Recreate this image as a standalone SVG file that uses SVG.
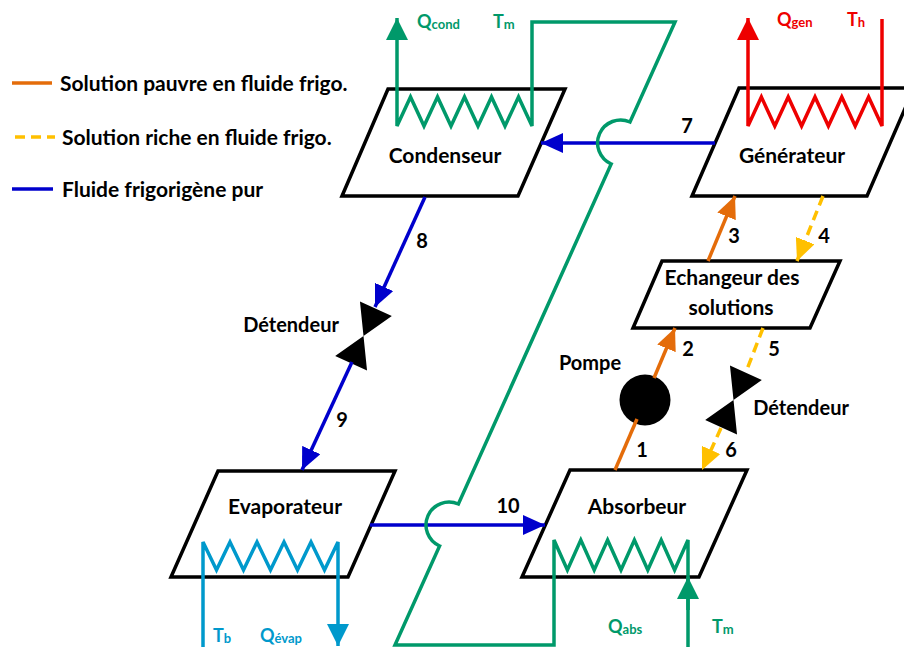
<svg xmlns="http://www.w3.org/2000/svg" width="904" height="647" viewBox="0 0 904 647">
<style>
text{font-family:Lato,"Liberation Sans",sans-serif;font-weight:bold;fill:#000}
.node{font-size:21px;text-anchor:middle}
.num{font-size:20px;text-anchor:middle}
.leg{font-size:21px}
.lbl{font-size:20px;text-anchor:middle}
.q{font-size:18px}
.sub{font-size:13px}
.box{fill:#fff;stroke:#000;stroke-width:3.5;stroke-linejoin:miter}
.blue{fill:none;stroke:#0000cc;stroke-width:3.5}
.orange{fill:none;stroke:#e46c0a;stroke-width:3.5}
.yellow{fill:none;stroke:#ffc000;stroke-width:3.5;stroke-dasharray:10 6}
.green{fill:none;stroke:#00996a;stroke-width:3.5}
.red{fill:none;stroke:#ee0000;stroke-width:3.5}
.lblue{fill:none;stroke:#0099cc;stroke-width:3.5}
</style>
<defs>
<marker id="aBlue" viewBox="0 0 22 20" refX="22" refY="10" markerWidth="22" markerHeight="20" markerUnits="userSpaceOnUse" orient="auto"><path d="M0,0L22,10L0,20z" fill="#0000cc"/></marker>
<marker id="aOrange" viewBox="0 0 22 20" refX="22" refY="10" markerWidth="22" markerHeight="20" markerUnits="userSpaceOnUse" orient="auto"><path d="M0,0L22,10L0,20z" fill="#e46c0a"/></marker>
<marker id="aYellow" viewBox="0 0 22 20" refX="22" refY="10" markerWidth="22" markerHeight="20" markerUnits="userSpaceOnUse" orient="auto"><path d="M0,0L22,10L0,20z" fill="#ffc000"/></marker>
<marker id="aGreen" viewBox="0 0 22 22" refX="22" refY="11" markerWidth="22" markerHeight="22" markerUnits="userSpaceOnUse" orient="auto"><path d="M0,0L22,11L0,22z" fill="#00996a"/></marker>
<marker id="aRed" viewBox="0 0 22 22" refX="22" refY="11" markerWidth="22" markerHeight="22" markerUnits="userSpaceOnUse" orient="auto"><path d="M0,0L22,11L0,22z" fill="#ee0000"/></marker>
<marker id="aLblue" viewBox="0 0 22 22" refX="22" refY="11" markerWidth="22" markerHeight="22" markerUnits="userSpaceOnUse" orient="auto"><path d="M0,0L22,11L0,22z" fill="#0099cc"/></marker>
<g id="valveShape"><path d="M-17.5,-30L17.5,-30L0,0z M-17.5,30L17.5,30L0,0z" fill="#000"/></g>
</defs>

<g id="legend">
<line x1="12" y1="83" x2="52" y2="83" class="orange"/>
<text x="60" y="91" class="leg">Solution pauvre en fluide frigo.</text>
<line x1="15" y1="137" x2="55" y2="137" class="yellow" stroke-dasharray="9 5"/>
<text x="62" y="145" class="leg">Solution riche en fluide frigo.</text>
<line x1="12" y1="189" x2="53" y2="189" class="blue"/>
<text x="62" y="197" class="leg">Fluide frigorigène pur</text>
</g>

<g id="condenseur">
<path d="M388,89H565L518,196H342Z" class="box"/>
<text x="445" y="163" class="node">Condenseur</text>
</g>
<g id="generateur">
<path d="M739,88H914L867,196H692Z" class="box"/>
<text x="792" y="163" class="node">Générateur</text>
</g>
<g id="evaporateur">
<path d="M218,471H395L348,577H171Z" class="box"/>
<text x="285" y="514" class="node">Evaporateur</text>
</g>
<g id="absorbeur">
<path d="M570,470H747L699,577H522Z" class="box"/>
<text x="637" y="514" class="node">Absorbeur</text>
</g>
<g id="echangeur">
<path d="M662,261H840L810,328H633Z" class="box"/>
<text x="732" y="285" class="node">Echangeur des</text>
<text x="731" y="315" class="node">solutions</text>
</g>
<g id="pompe">
<circle cx="645" cy="400" r="25.5" fill="#000"/>
<text x="590" y="370" class="lbl">Pompe</text>
</g>
<g id="detendeur1">
<use href="#valveShape" transform="translate(363.5,336) rotate(24.4)"/>
<text x="291" y="332" class="lbl">Détendeur</text>
</g>
<g id="detendeur2">
<use href="#valveShape" transform="translate(733.5,400) rotate(24.4)"/>
<text x="801" y="415" class="lbl">Détendeur</text>
</g>

<g id="connectors">
<line x1="715" y1="143" x2="541" y2="143" class="blue" marker-end="url(#aBlue)"/>
<line x1="425" y1="197" x2="375" y2="307" class="blue" marker-end="url(#aBlue)"/>
<line x1="352" y1="362" x2="302" y2="470" class="blue" marker-end="url(#aBlue)"/>
<line x1="370" y1="525" x2="545" y2="525" class="blue" marker-end="url(#aBlue)"/>
<line x1="615" y1="470" x2="637" y2="419" class="orange"/>
<line x1="654" y1="378" x2="675" y2="328" class="orange" marker-end="url(#aOrange)"/>
<line x1="708" y1="261" x2="735" y2="196" class="orange" marker-end="url(#aOrange)"/>
<line x1="823" y1="196" x2="797" y2="261" class="yellow" marker-end="url(#aYellow)"/>
<line x1="763" y1="328" x2="746" y2="372" class="yellow"/>
<line x1="721" y1="428" x2="702" y2="470" class="yellow" marker-end="url(#aYellow)"/>
<path d="M688,647V540L674.6,570L661.2,540L647.8,570L634.4,540L621,570L607.6,540L594.2,570L580.8,540L567.4,570L554,540V645H395L439.6,546A23,23 0 0 1 458.4,504L611.2,164A23,23 0 0 1 630,122L675,22H532V126L518.5,97L505,126L491.5,97L478,126L464.5,97L451,126L437.5,97L424,126L410.5,97L397,126V18" class="green" marker-end="url(#aGreen)"/>
<line x1="688" y1="610" x2="688" y2="577" class="green" marker-end="url(#aGreen)"/>
<path d="M882,19V126L868.6,97L855.2,126L841.8,97L828.4,126L815,97L801.6,126L788.2,97L774.8,126L761.4,97L748,126V18" class="red" marker-end="url(#aRed)"/>
<path d="M203,647V542L216.5,570L230,542L243.5,570L257,542L270.5,570L284,542L297.5,570L311,542L324.5,570L338,542V646" class="lblue" marker-end="url(#aLblue)"/>
</g>

<g id="labels">
<text x="687" y="133" class="num">7</text>
<text x="422" y="248" class="num">8</text>
<text x="342" y="427" class="num">9</text>
<text x="508" y="513" class="num">10</text>
<text x="734" y="243" class="num">3</text>
<text x="824" y="243" class="num">4</text>
<text x="688" y="356" class="num">2</text>
<text x="774" y="356" class="num">5</text>
<text x="642" y="457" class="num">1</text>
<text x="731" y="457" class="num">6</text>
<text x="417" y="28" class="q" style="fill:#00996a">Q<tspan class="sub" dy="1">cond</tspan></text>
<text x="493" y="28" class="q" style="fill:#00996a">T<tspan class="sub" dy="1">m</tspan></text>
<text x="777" y="26" class="q" style="fill:#ee0000">Q<tspan class="sub" dy="1">gen</tspan></text>
<text x="847" y="26" class="q" style="fill:#ee0000">T<tspan class="sub" dy="1">h</tspan></text>
<text x="213" y="642" class="q" style="fill:#0099cc">T<tspan class="sub" dy="1">b</tspan></text>
<text x="260" y="642" class="q" style="fill:#0099cc">Q<tspan class="sub" dy="1">évap</tspan></text>
<text x="608" y="633" class="q" style="fill:#00996a">Q<tspan class="sub" dy="1">abs</tspan></text>
<text x="712" y="633" class="q" style="fill:#00996a">T<tspan class="sub" dy="1">m</tspan></text>
</g>
</svg>
